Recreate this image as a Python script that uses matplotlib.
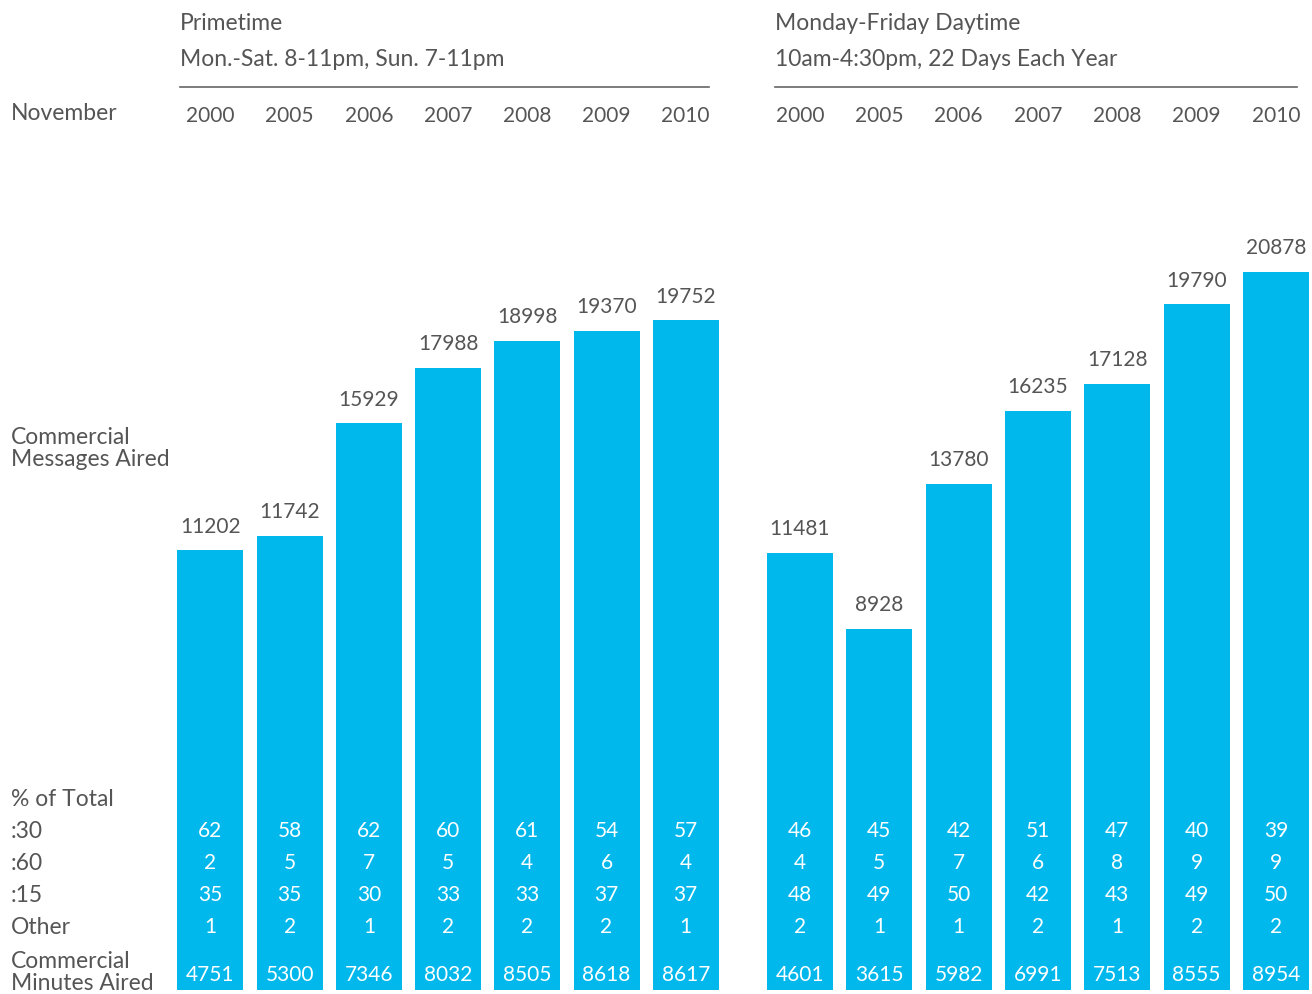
import matplotlib
matplotlib.use("Agg")
import matplotlib.pyplot as plt
import matplotlib.transforms as mtransforms
import numpy as np

# ---- data -------------------------------------------------------------
years = ["2000", "2005", "2006", "2007", "2008", "2009", "2010"]

prime_messages = [11202, 11742, 15929, 17988, 18998, 19370, 19752]
prime_pct30 = [62, 58, 62, 60, 61, 54, 57]
prime_pct60 = [2, 5, 7, 5, 4, 6, 4]
prime_pct15 = [35, 35, 30, 33, 33, 37, 37]
prime_other = [1, 2, 1, 2, 2, 2, 1]
prime_minutes = [4751, 5300, 7346, 8032, 8505, 8618, 8617]

day_messages = [11481, 8928, 13780, 16235, 17128, 19790, 20878]
day_pct30 = [46, 45, 42, 51, 47, 40, 39]
day_pct60 = [4, 5, 7, 6, 8, 9, 9]
day_pct15 = [48, 49, 50, 42, 43, 49, 50]
day_other = [2, 1, 1, 2, 1, 2, 2]
day_minutes = [4601, 3615, 5982, 6991, 7513, 8555, 8954]

prime_title = ["Primetime", "Mon.-Sat. 8-11pm, Sun. 7-11pm"]
day_title = ["Monday-Friday Daytime", "10am-4:30pm, 22 Days Each Year"]
row_labels = [":30", ":60", ":15", "Other"]

# ---- style ------------------------------------------------------------
BAR = "#00B8EC"
TXT = "#555555"
FONT = ["Lato", "DejaVu Sans"]
FS_NUM = 15      # numbers
FS_WORD = 16.5   # words
plt.rcParams["font.family"] = FONT

W, H = 1312, 994
fig = plt.figure(figsize=(W / 100, H / 100), dpi=100)
fig.patch.set_facecolor("white")


def fy(py):
    """figure fraction from a pixel row measured from the top"""
    return 1 - py / H


def fx(px):
    return px / W


def panel(left_px, right_px, step_px, ylim, messages, rows, minutes,
          title, line_span):
    x = np.arange(len(years))
    ax = fig.add_axes([fx(left_px), fy(990), fx(right_px - left_px),
                       fy(140) - fy(990)])
    ax.set_xlim(-0.5, -0.5 + (right_px - left_px) / step_px)
    ax.set_ylim(*ylim)
    base = ylim[0]
    heights = [m - base for m in messages]
    ax.bar(x, heights, bottom=base, width=66 / step_px, color=BAR,
           linewidth=0)
    ax.axis("off")

    # message counts above bars
    for xi, m in zip(x, messages):
        ax.annotate(f"{m}", (xi, m), xytext=(0, 17),
                    textcoords="offset points", ha="center", va="center",
                    fontsize=FS_NUM, color=TXT)

    tr = mtransforms.blended_transform_factory(ax.transData, fig.transFigure)
    # year headings
    for xi, yr in zip(x, years):
        fig.text(xi, fy(116), yr, transform=tr, ha="center", va="center",
                 fontsize=FS_NUM, color=TXT)
    # percentage rows inside bars
    for row, py in zip(rows, [831, 863, 895, 927]):
        for xi, v in zip(x, row):
            fig.text(xi, fy(py), f"{v}", transform=tr, ha="center",
                     va="center", fontsize=FS_NUM, color="white")
    for xi, v in zip(x, minutes):
        fig.text(xi, fy(975), f"{v}", transform=tr, ha="center",
                 va="center", fontsize=FS_NUM, color="white")

    # panel title and rule
    fig.text(fx(line_span[0]), fy(24), title[0], ha="left", va="center",
             fontsize=FS_WORD, color=TXT)
    fig.text(fx(line_span[0]), fy(59), title[1], ha="left", va="center",
             fontsize=FS_WORD, color=TXT)
    fig.add_artist(plt.Line2D([fx(line_span[0]), fx(line_span[1])],
                              [fy(87), fy(87)], color="#666666", lw=1.2))
    return ax


panel(170.9, 725.3, 79.2, (-5145, 26454), prime_messages,
      [prime_pct30, prime_pct60, prime_pct15, prime_other], prime_minutes,
      prime_title, (180, 709))
panel(760.3, 1312, 79.33, (-3159, 25288), day_messages,
      [day_pct30, day_pct60, day_pct15, day_other], day_minutes,
      day_title, (775, 1297))

# row headers on the left
left_labels = [("November", 113), ("Commercial", 437),
               ("Messages Aired", 459), ("% of Total", 800),
               (row_labels[0], 831), (row_labels[1], 863),
               (row_labels[2], 895), (row_labels[3], 927),
               ("Commercial", 962), ("Minutes Aired", 984)]
for text, py in left_labels:
    fig.text(fx(11), fy(py), text, ha="left", va="center", fontsize=FS_WORD,
             color=TXT)

fig.savefig("out.png", dpi=100, facecolor="white")
